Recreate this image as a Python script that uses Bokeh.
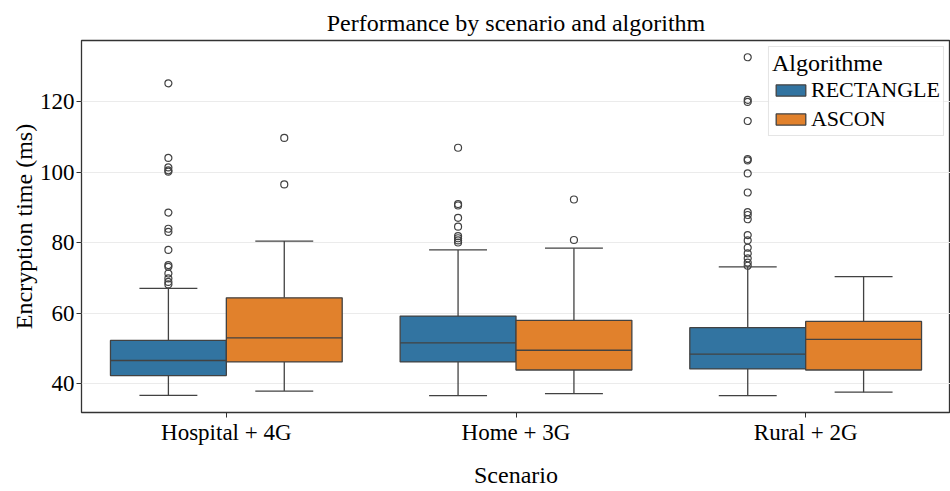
from bokeh.plotting import figure
from bokeh.models import FactorRange, Range1d, ColumnDataSource
from bokeh.transform import dodge
from bokeh.embed import file_html
from bokeh.resources import INLINE

scenarios = ["Hospital + 4G", "Home + 3G", "Rural + 2G"]
algorithms = ["RECTANGLE", "ASCON"]
colors = ["#3274a1", "#e1812c"]

# box statistics per scenario (order of `scenarios`)
rect_low = [36.7, 36.6, 36.6]
rect_q1 = [42.3, 46.2, 44.2]
rect_med = [46.6, 51.6, 48.4]
rect_q3 = [52.3, 59.2, 55.9]
rect_high = [67.1, 78.0, 73.2]

ascon_low = [37.9, 37.2, 37.6]
ascon_q1 = [46.2, 43.9, 43.9]
ascon_med = [53.0, 49.5, 52.6]
ascon_q3 = [64.4, 58.0, 57.7]
ascon_high = [80.5, 78.5, 70.4]

rect_outliers = [
    [125.3, 104.1, 101.4, 100.6, 100.2, 88.6, 84.0, 83.1, 78.0, 73.7, 73.2, 71.3, 69.9, 68.9, 68.2],
    [107.0, 91.0, 90.6, 87.1, 84.6, 81.9, 81.3, 80.7, 80.1],
    [132.7, 120.6, 120.0, 114.6, 103.8, 103.4, 99.7, 94.3, 88.7, 87.9, 86.7, 82.2, 80.7,
     78.6, 77.0, 75.6, 74.4, 73.5],
]
ascon_outliers = [
    [109.8, 96.6],
    [92.3, 80.8],
    [],
]

FONT = "Liberation Serif"
EDGE = "#424242"

p = figure(width=950, height=491, output_backend="svg", toolbar_location=None,
           x_range=FactorRange(*scenarios, range_padding=0),
           y_range=Range1d(31.83, 137.45),
           title="Performance by scenario and algorithm",
           x_axis_label="Scenario", y_axis_label="Encryption time (ms)",
           min_border_left=81, min_border_right=0, min_border_top=40, min_border_bottom=79)

p.title.align = "center"
p.title.text_font = FONT
p.title.text_font_size = "24px"
p.title.text_font_style = "normal"
p.title.text_color = "black"

for ax in (p.xaxis[0], p.yaxis[0]):
    ax.axis_label_text_font = FONT
    ax.axis_label_text_font_size = "24px"
    ax.axis_label_text_font_style = "normal"
    ax.axis_label_text_color = "black"
    ax.major_label_text_font = FONT
    ax.major_label_text_font_size = "23px"
    ax.major_label_text_color = "black"
    ax.axis_line_color = None
    ax.major_tick_line_color = "#333333"
    ax.major_tick_out = 5
    ax.major_tick_in = 0
    ax.minor_tick_line_color = None
    ax.major_label_standoff = 2

p.xaxis.major_label_standoff = 2
p.xaxis.axis_label_standoff = 14
p.yaxis.axis_label_standoff = 0
p.yaxis.ticker = [40, 60, 80, 100, 120]

p.xgrid.grid_line_color = None
p.ygrid.grid_line_color = "#ebebeb"
p.ygrid.grid_line_width = 1.2
p.outline_line_color = "#333333"
p.outline_line_width = 1.3

stats = [
    (rect_low, rect_q1, rect_med, rect_q3, rect_high, rect_outliers),
    (ascon_low, ascon_q1, ascon_med, ascon_q3, ascon_high, ascon_outliers),
]
offsets = [-0.2, 0.2]

for i, alg in enumerate(algorithms):
    low, q1, med, q3, high, outl = stats[i]
    off = offsets[i]
    src = ColumnDataSource(dict(scen=scenarios, low=low, q1=q1, med=med, q3=q3, high=high))
    xc = dodge("scen", off, range=p.x_range)
    xl = dodge("scen", off - 0.2, range=p.x_range)
    xr = dodge("scen", off + 0.2, range=p.x_range)
    cl = dodge("scen", off - 0.1, range=p.x_range)
    cr = dodge("scen", off + 0.1, range=p.x_range)
    p.segment(x0=xc, x1=xc, y0="q3", y1="high", source=src, line_color=EDGE, line_width=1.3)
    p.segment(x0=xc, x1=xc, y0="low", y1="q1", source=src, line_color=EDGE, line_width=1.3)
    p.segment(x0=cl, x1=cr, y0="high", y1="high", source=src, line_color=EDGE, line_width=1.3)
    p.segment(x0=cl, x1=cr, y0="low", y1="low", source=src, line_color=EDGE, line_width=1.3)
    p.vbar(x=xc, width=0.4, bottom="q1", top="q3", source=src, fill_color=colors[i],
           line_color=EDGE, line_width=1.3, legend_label=alg)
    p.segment(x0=xl, x1=xr, y0="med", y1="med", source=src, line_color=EDGE, line_width=1.3)
    ox, oy = [], []
    for s, vals in zip(scenarios, outl):
        for v in vals:
            ox.append(s)
            oy.append(v)
    osrc = ColumnDataSource(dict(scen=ox, y=oy))
    p.scatter(x=xc, y="y", source=osrc, size=7, fill_color=None, line_color=EDGE, line_width=1.2)

lg = p.legend[0]
lg.title = "Algorithme"
lg.title_text_font = FONT
lg.title_text_font_size = "24px"
lg.title_text_font_style = "normal"
lg.title_text_color = "black"
lg.label_text_font = FONT
lg.label_text_font_size = "22px"
lg.label_text_color = "black"
lg.location = "top_right"
lg.margin = 6
lg.padding = 3
lg.spacing = 3
lg.glyph_width = 37
lg.glyph_height = 14
lg.label_height = 24
lg.label_standoff = 2
lg.title_standoff = 0
lg.border_line_color = "#cccccc"
lg.border_line_width = 1.2
lg.background_fill_alpha = 0.85

open("out.html", "w").write(file_html(p, INLINE))
